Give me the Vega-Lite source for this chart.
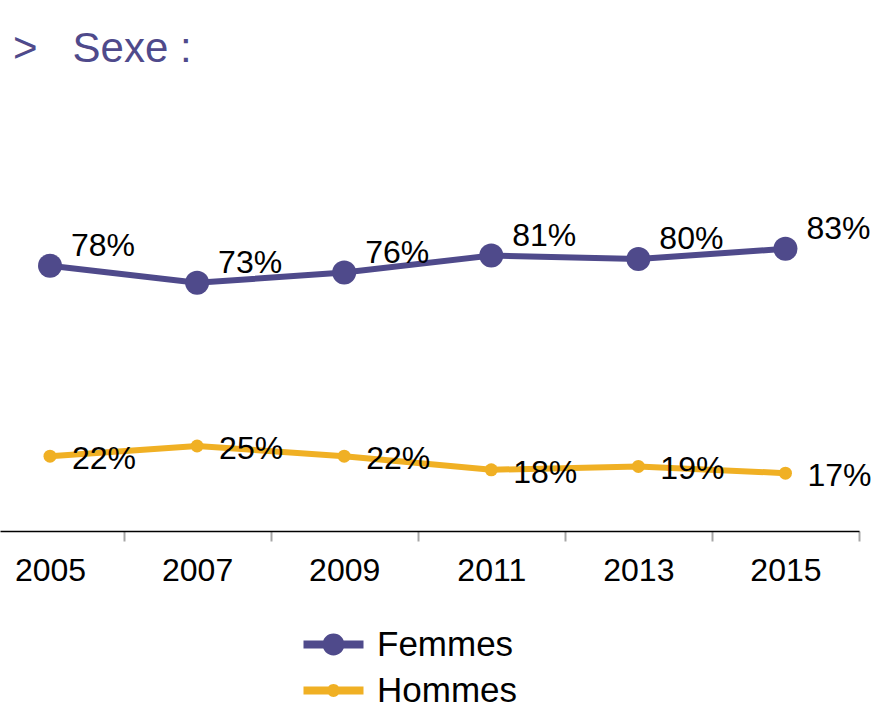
{
  "$schema": "https://vega.github.io/schema/vega-lite/v6.json",
  "autosize": {"type": "none"},
  "width": 859,
  "height": 340,
  "padding": {"left": 0, "top": 191, "right": 20, "bottom": 181},
  "background": "white",
  "title": {"text": ">\u00a0\u00a0\u00a0Sexe :", "anchor": "start", "frame": "group", "fontSize": 42, "fontWeight": "normal", "color": "#4F4A8B", "font": "Liberation Sans", "dx": 13, "offset": 120},
  "config": {"view": {"stroke": null}, "font": "Liberation Sans"},
  "data": {"values": [
    {"year": 2005, "sex": "Femmes", "pct": 0.78},
    {"year": 2007, "sex": "Femmes", "pct": 0.73},
    {"year": 2009, "sex": "Femmes", "pct": 0.76},
    {"year": 2011, "sex": "Femmes", "pct": 0.81},
    {"year": 2013, "sex": "Femmes", "pct": 0.80},
    {"year": 2015, "sex": "Femmes", "pct": 0.83},
    {"year": 2005, "sex": "Hommes", "pct": 0.22},
    {"year": 2007, "sex": "Hommes", "pct": 0.25},
    {"year": 2009, "sex": "Hommes", "pct": 0.22},
    {"year": 2011, "sex": "Hommes", "pct": 0.18},
    {"year": 2013, "sex": "Hommes", "pct": 0.19},
    {"year": 2015, "sex": "Hommes", "pct": 0.17}
  ]},
  "encoding": {
    "x": {"field": "year", "type": "quantitative",
      "scale": {"domain": [2004.32, 2016], "nice": false, "zero": false},
      "axis": {"values": [2005, 2007, 2009, 2011, 2013, 2015], "format": "d", "title": null, "grid": false,
        "tickOffset": 73.6, "labelOffset": -73.6, "labelFlush": false, "labelOverlap": false,
        "labelFontSize": 32, "labelColor": "black", "labelPadding": 14,
        "tickSize": 10, "tickColor": "#A6A6A6", "tickWidth": 2,
        "domainColor": "black", "domainWidth": 1.5}},
    "y": {"field": "pct", "type": "quantitative", "scale": {"domain": [0, 1]}, "axis": null},
    "color": {"field": "sex", "type": "nominal",
      "scale": {"domain": ["Femmes", "Hommes"], "range": ["#4F4A8B", "#F0B024"]},
      "legend": {"orient": "none", "legendX": 316, "legendY": 436, "title": null, "padding": 0,
        "symbolSize": 900, "labelFontSize": 35, "labelColor": "black", "labelOffset": 26, "rowPadding": 10,
        "encode": {"symbols": {"update": {
          "shape": {"signal": "datum.value === 'Femmes' ? 'M-2,-0.27H2V0.27H-2Z M0.73,0A0.73,0.73,0,1,1,-0.73,0A0.73,0.73,0,1,1,0.73,0Z' : 'M-2,-0.27H2V0.27H-2Z M0.43,0A0.43,0.43,0,1,1,-0.43,0A0.43,0.43,0,1,1,0.43,0Z'"},
          "fill": {"signal": "datum.value === 'Femmes' ? '#4F4A8B' : '#F0B024'"},
          "strokeWidth": {"value": 0},
          "opacity": {"value": 1},
          "size": {"value": 900}
        }}}}}
  },
  "layer": [
    {"mark": {"type": "line", "strokeWidth": 6}},
    {"transform": [{"filter": "datum.sex === 'Femmes'"}],
      "mark": {"type": "point", "filled": true, "opacity": 1, "size": 576}},
    {"transform": [{"filter": "datum.sex === 'Hommes'"}],
      "mark": {"type": "point", "filled": true, "opacity": 1, "size": 169}},
    {"transform": [{"filter": "datum.sex === 'Femmes'"}],
      "mark": {"type": "text", "align": "left", "baseline": "middle", "dx": 21, "dy": -20, "fontSize": 32},
      "encoding": {"text": {"field": "pct", "format": ".0%"}, "color": {"value": "black"}}},
    {"transform": [{"filter": "datum.sex === 'Hommes'"}],
      "mark": {"type": "text", "align": "left", "baseline": "middle", "dx": 22, "dy": 3, "fontSize": 32},
      "encoding": {"text": {"field": "pct", "format": ".0%"}, "color": {"value": "black"}}}
  ]
}
